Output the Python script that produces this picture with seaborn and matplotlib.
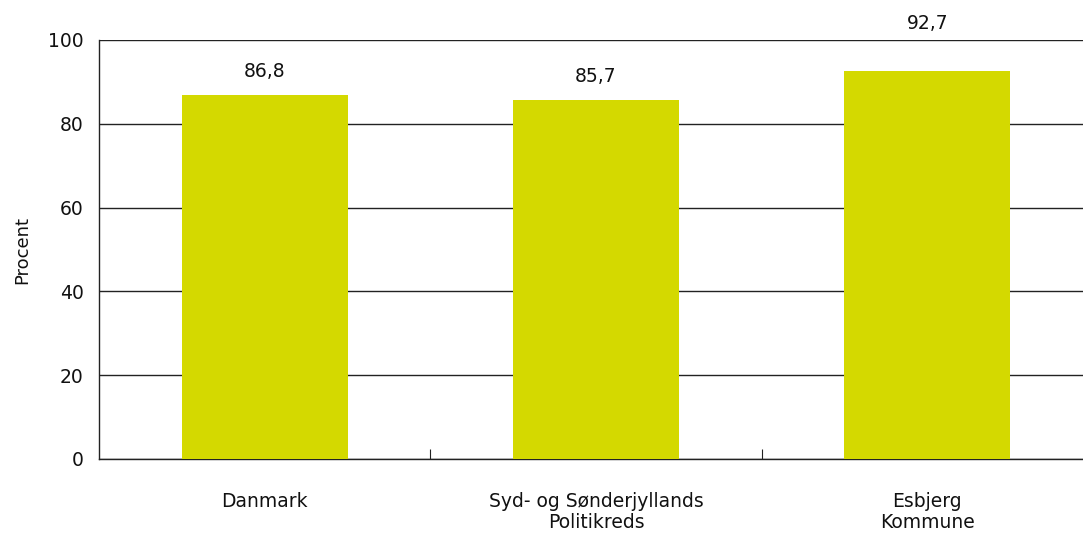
import matplotlib.pyplot as plt
import pandas as pd
import seaborn as sns
from matplotlib.ticker import FixedLocator

categories = ["Danmark", "Syd- og Sønderjyllands\nPolitikreds", "Esbjerg\nKommune"]
values = [86.8, 85.7, 92.7]
bar_color = "#d4d900"

df = pd.DataFrame({"region": categories, "procent": values})

sns.set_theme(style="white")
plt.rcParams["font.family"] = ["DejaVu Sans"]

fig = plt.figure(figsize=(10.83, 5.35), dpi=100)
ax = fig.add_axes([99 / 1083, 76 / 535, 994 / 1083, 419 / 535])

sns.barplot(data=df, x="region", y="procent", color=bar_color,
            saturation=1, width=0.5, linewidth=0, ax=ax, zorder=3)

ax.set_ylim(0, 100)
ax.set_xlim(-0.5, 2.5)
ax.set_yticks([0, 20, 40, 60, 80, 100])
ax.yaxis.grid(True, color="#222222", linewidth=1)
ax.set_axisbelow(True)

# the top label sits above the 100 line, like in the original
label_pads = [10, 10, 27]
texts = ax.bar_label(ax.containers[0],
                     labels=[f"{v:.1f}".replace(".", ",") for v in values],
                     padding=10, fontsize=13.5, color="#111111")
for t, p in zip(texts, label_pads):
    t.xyann = (0, p)
    t.set_clip_on(False)

ax.set_xlabel("")
ax.set_ylabel("Procent", fontsize=13, labelpad=12, color="#111111")
ax.tick_params(axis="x", length=0, pad=24, labelsize=13.5, labelcolor="#111111")
ax.tick_params(axis="y", length=0, pad=11, labelsize=13.5, labelcolor="#111111")
for lbl in ax.get_xticklabels():
    lbl.set_linespacing(1.1)
ax.xaxis.set_minor_locator(FixedLocator([0.5, 1.5]))
ax.tick_params(axis="x", which="minor", direction="in", length=7, width=0.8,
               color="#222222", bottom=True)

for side in ["top", "right"]:
    ax.spines[side].set_visible(False)
for side in ["left", "bottom"]:
    ax.spines[side].set_color("#222222")
    ax.spines[side].set_linewidth(1)

fig.savefig("out.png", dpi=100)
